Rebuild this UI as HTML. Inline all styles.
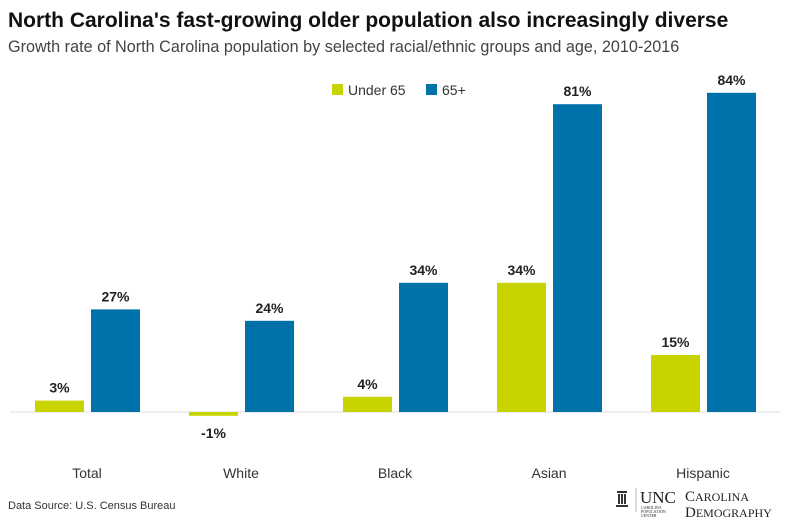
<!DOCTYPE html>
<html><head><meta charset="utf-8"><style>
body{margin:0;width:798px;height:520px;background:#fff;font-family:"Liberation Sans",sans-serif;position:relative;overflow:hidden}
#title{position:absolute;left:8px;top:9px;font-size:21px;font-weight:bold;color:#111;letter-spacing:0px;white-space:nowrap}
#sub{position:absolute;left:8px;top:38px;font-size:16.2px;color:#444;white-space:nowrap}
#src{position:absolute;left:8px;top:500px;font-size:11px;color:#333}
</style></head><body>
<div id="title">North Carolina's fast-growing older population also increasingly diverse</div>
<div id="sub">Growth rate of North Carolina population by selected racial/ethnic groups and age, 2010-2016</div>
<div id="src">Data Source: U.S. Census Bureau</div>
<svg id="chart" width="798" height="520" style="position:absolute;left:0;top:0">
<g>
<rect x="332" y="84" width="11" height="11" fill="#c8d400"/>
<text x="348" y="95" font-size="14" fill="#333">Under 65</text>
<rect x="426" y="84" width="11" height="11" fill="#0072aa"/>
<text x="442" y="95" font-size="14" fill="#333">65+</text>
</g>
<line x1="10" y1="412" x2="780" y2="412" stroke="#ddd" stroke-width="1"/>
<g font-family="Liberation Serif,serif" fill="#222">
<rect x="617" y="491" width="10" height="2" fill="#333"/>
<rect x="618" y="494" width="2" height="10" fill="#333"/><rect x="621" y="494" width="2" height="10" fill="#333"/><rect x="624" y="494" width="2" height="10" fill="#333"/>
<rect x="616" y="505" width="12" height="2" fill="#333"/>
<line x1="636" y1="488" x2="636" y2="512" stroke="#bbb"/>
<text x="640" y="503" font-size="17">UNC</text>
<text x="641" y="509" font-size="4">CAROLINA</text>
<text x="641" y="513" font-size="4">POPULATION</text>
<text x="641" y="517" font-size="4">CENTER</text>
<text x="685" y="501" font-size="15">C<tspan font-size="12">AROLINA</tspan></text>
<text x="685" y="517" font-size="15">D<tspan font-size="12">EMOGRAPHY</tspan></text>
</g>
</svg>
<script>
const categories=["Total","White","Black","Asian","Hispanic"];
const under65=[3,-1,4,34,15];
const over65=[27,24,34,81,84];
const svg=document.getElementById('chart');
const NS='http://www.w3.org/2000/svg';
const base=412, k=3.8;
const y=v=>base-v*k;
const gx=i=>35+i*154;
function mk(t,a){const e=document.createElementNS(NS,t);for(const n in a)e.setAttribute(n,a[n]);svg.appendChild(e);return e;}
categories.forEach((c,i)=>{
  [[under65[i],0,'#c8d400','under65'],[over65[i],56,'#0072aa','65plus']].forEach(([v,off,col,s])=>{
    const x=gx(i)+off;
    const r=mk('rect',{x:x,y:Math.min(y(v),base),width:49,height:Math.max(Math.abs(v*k),1.5),fill:col});
    
    
    const ly=v>=0?y(v)-8:base+26;
    const t=mk('text',{x:x+24.5,y:ly,'text-anchor':'middle','font-size':14,'font-weight':'bold',fill:'#222'});
    t.textContent=v+'%';
    
    
  });
  const l=mk('text',{x:gx(i)+52,y:478,'text-anchor':'middle','font-size':14,fill:'#333'});
  l.textContent=c;
  
  
});
</script>
</body></html>
